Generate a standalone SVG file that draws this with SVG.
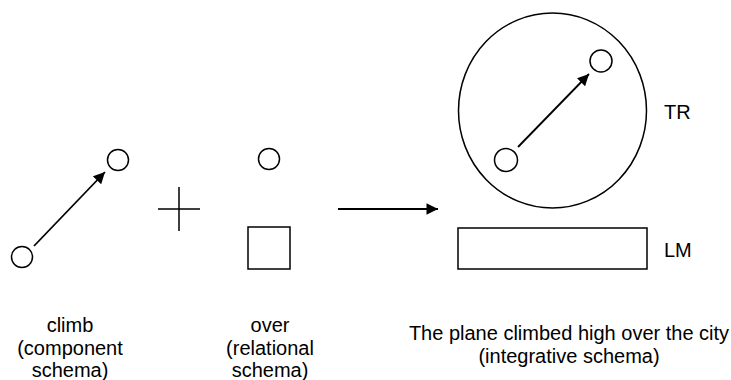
<svg xmlns="http://www.w3.org/2000/svg" width="731" height="380" viewBox="0 0 731 380">
<style>
.s{fill:none;stroke:#000;stroke-width:1.5}
.c{stroke:#000;stroke-width:1.8;fill:none}
.t{font-family:"Liberation Sans",Arial,sans-serif;font-size:20px;fill:#000}
.m{text-anchor:middle}
</style>
<defs>
<marker id="ah" viewBox="0 0 12 12" refX="12" refY="6" markerWidth="12" markerHeight="11.5" orient="auto" markerUnits="userSpaceOnUse">
<path d="M0,0 L12,6 L0,12 Z" fill="#000"/>
</marker>
</defs>
<g id="climb-start"><circle class="s" cx="22" cy="257" r="10.5"/></g>
<g id="climb-end"><circle class="s" cx="118" cy="160" r="10.5"/></g>
<g id="plus"><path class="s" d="M158,209 H200 M179,187 V231"/></g>
<g id="over-tr"><circle class="s" cx="269" cy="159" r="10.5"/></g>
<g id="over-lm"><rect class="s" x="248" y="227" width="42" height="42"/></g>
<g id="tr"><ellipse class="s" cx="552.5" cy="110.5" rx="94" ry="97.5"/>
<circle class="s" cx="601" cy="61" r="11"/>
<circle class="s" cx="506" cy="160" r="11.5"/>
<text class="t" x="664" y="118.5">TR</text></g>
<g id="lm"><rect class="s" x="458" y="228" width="189" height="41"/>
<text class="t" x="664" y="256.5">LM</text></g>
<g id="connectors">
<line class="c" x1="34" y1="246" x2="105" y2="172" marker-end="url(#ah)"/>
<line class="c" x1="338" y1="209" x2="438" y2="209" marker-end="url(#ah)"/>
<line class="c" x1="518" y1="147" x2="589" y2="74" marker-end="url(#ah)"/>
</g>
<g id="labels">
<text class="t m" x="70" y="332">climb</text>
<text class="t m" x="70" y="354.5">(component</text>
<text class="t m" x="70" y="377">schema)</text>
<text class="t m" x="270" y="332">over</text>
<text class="t m" x="270" y="354.5">(relational</text>
<text class="t m" x="270" y="377">schema)</text>
<text class="t m" x="569" y="340">The plane climbed high over the city</text>
<text class="t m" x="569" y="362.5">(integrative schema)</text>
</g>
</svg>
